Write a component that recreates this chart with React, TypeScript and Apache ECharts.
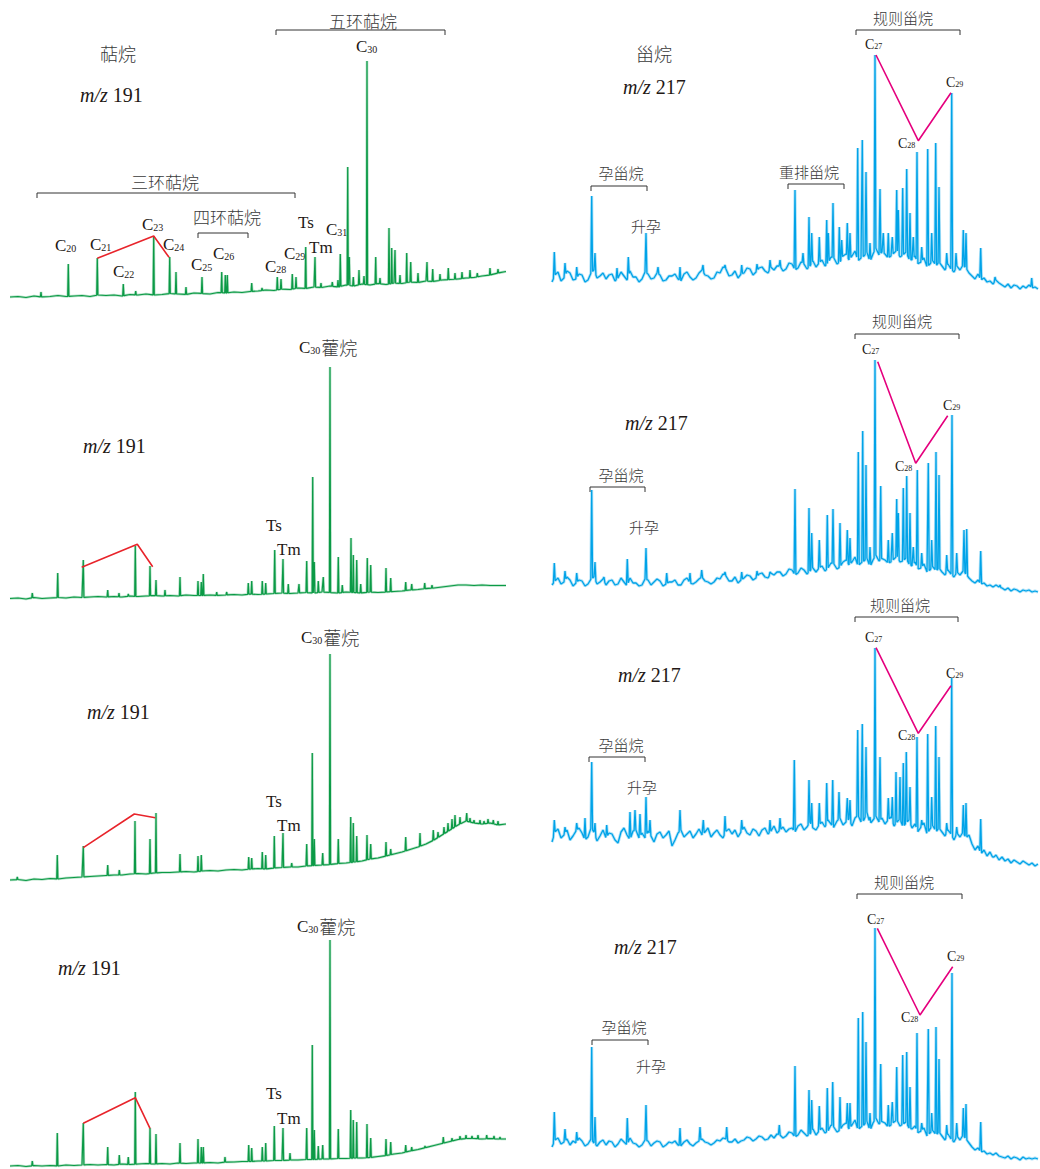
import React, { useEffect, useRef } from "react";
import * as echarts from "echarts";

// ---- sampling of the baseline traces (scan index units) ----
const L_START = 10;
const L_STEP = 8;
const R_START = 12;
const R_STEP = 3;

// ---- m/z 191 (terpanes) baseline traces, abundance ----
const traceL1 = [3,3.5,2.5,4,3,3.5,4.5,3.5,4,4.5,3.5,5,4.5,5,4,5.5,5,6,5,5.5,6.5,6,5.5,7,6.5,6,7.5,7,8,7.5,8.5,9,10,9.5,11,10.5,12,11.5,13,12.5,14,13,15,14,16,15,16.5,15.5,17,16.5,18,17.5,19,18.5,20,20.5,21,22,22.5,24,25,27,28.5];
const traceL2 = [6.5,7,6,7.5,6.5,7,7.5,7,8,7.5,8,8.5,8,8.5,8,9,8.5,9,9.5,9,9.5,9,10,9.5,9.5,10,9.5,10,10.5,10,11,10.5,11,11.5,12,11.5,12,12.5,12,13,12.5,12,13,12.5,12,13,12.5,13,13.5,14,15,15.5,16.5,17,18,19,20,20,19.5,20,19.5,19.5,19.5];
const traceL3 = [10,10.5,9.5,11,10.5,11.5,11,12,12.5,13,13.5,14,14.5,15,15,16,16.5,16,17,17.5,17.5,18,18.5,18,19,19.5,19,20,20.5,20,21,21.5,21,22,22.5,23,23,24,24.5,25,25.5,26.5,27,28,29,31,32,34,36,38,40.5,43,46,50,55,60,65,69,67,66,67,65,66];
const traceL4 = [3,3.5,2.5,3.5,3,3.5,3,4,3.5,4,4.5,4,4.5,4,5,4.5,5,5.5,5,5.5,5,6,5.5,6,6,6.5,6,7,7,7.5,7.5,8,8,8.5,8.5,9,9,9.5,9.5,10,10,10.5,10.5,11,11,11.5,12.5,13.5,15,16,18,19.5,21.5,23.5,25.5,27.5,29.5,30.5,30.5,30,30.5,30,30];

// ---- m/z 217 (steranes) baseline traces, abundance ----
const traceR1 = [
  18,25,28,19,22,29,27,20,21,26, 25,18,20,27,30,22,24,27,21,25, 26,19,22,28,24,20,29,23,23,18,
  21,28,26,21,22,27,25,19,20,24, 24,26,21,19,26,28,23,20,22,27, 30,25,24,21,22,28,27,33,31,24,
  25,29,22,26,27,32,31,25,28,32, 33,29,27,33,30,34,34,29,31,37, 36,30,32,38,36,31,34,39,33,37,
  40,34,37,43,42,36,38,44,46,40, 44,49,39,42,44,48,38,46,52,45, 48,46,42,44,47,50,43,45,48,41,
  40,44,36,38,42,33,36,40,34,38, 34,30,36,31,28,34,30,35,32,27, 24,21,26,20,22,18,19,16,20,17,
  15,13,16,12,15,14,11,14,12,15, 12,13,11];
const traceR2 = [
  20,24,27,21,23,28,25,19,22,25, 24,19,21,26,28,21,23,26,20,24, 25,20,21,27,23,19,27,22,22,19,
  20,26,25,20,23,26,24,19,21,23, 23,25,20,20,25,27,22,21,23,26, 28,24,23,21,23,27,26,31,29,24,
  24,28,22,25,27,30,29,25,27,31, 32,28,27,32,30,33,33,29,31,36, 35,30,32,37,35,31,34,38,33,37,
  39,34,37,42,41,36,38,43,45,40, 43,48,39,42,44,47,38,45,50,44, 47,45,42,43,46,49,43,44,47,41,
  39,43,36,37,41,33,35,39,34,37, 33,30,35,31,28,33,30,34,31,27, 24,22,25,21,22,19,20,18,20,18,
  17,15,17,14,16,15,13,15,14,15, 13,14,13];
const traceR3 = [
  48,58,61,52,55,60,50,54,59,62, 57,50,53,62,58,49,54,60,52,57, 56,50,47,58,62,55,50,59,60,52,
  57,52,59,54,48,56,58,52,55,59, 44,50,57,60,53,56,59,52,56,61, 55,58,62,53,57,60,55,52,59,61,
  56,60,53,58,63,57,55,61,59,54, 60,62,56,59,64,57,60,63,58,61, 62,58,64,66,60,63,68,62,60,65,
  68,63,70,66,62,69,72,65,68,71, 64,72,75,68,70,78,66,70,74,68, 72,66,70,73,64,68,71,63,67,70,
  62,66,58,63,67,56,61,65,58,62, 58,54,60,56,50,57,53,58,52,55, 46,40,44,36,40,34,38,32,35,30,
  33,29,31,27,30,28,26,29,27,25, 27,24,26];
const traceR4 = [
  22,29,31,25,27,30,24,28,26,31, 28,23,25,30,26,23,27,29,24,28, 27,22,25,30,27,24,31,26,25,22,
  24,29,28,23,26,28,27,22,24,27, 26,28,24,23,27,29,25,23,26,28, 30,27,26,24,26,29,28,31,30,27,
  27,30,26,28,29,32,31,28,30,33, 32,29,30,34,31,35,34,31,33,37, 36,32,34,39,36,33,35,40,34,38,
  41,36,38,44,42,37,39,44,46,40, 44,49,39,42,44,48,38,46,51,45, 48,46,42,44,47,49,43,45,47,41,
  40,43,36,38,41,33,36,39,34,37, 33,29,35,30,27,33,29,34,30,26, 22,19,21,17,18,15,16,14,16,13,
  12,11,13,10,12,11,9,12,10,11, 10,11,10];

// ---- peaks [scan, apex abundance] ----
const peaksL1 = [[41,8],[68.3,36],[97.3,42],[123.3,16],[135.7,9],[153.7,64],[169.7,43],[176,28],[186,13],[202,23],[221.7,28],[225.3,25],[227.3,25],[251.7,17],[262,12],[277.3,23],[281,21],[292.3,26],[296,23],[305.7,53],[315,43],[321,17],[332.3,18],[338,20],[340.3,46],[347.7,133],[349.3,43],[353.3,23],[359,30],[364,24],[367,239],[375.7,43],[380,22],[389,72],[391.7,52],[395,50],[400,25],[406.7,47],[410.7,38],[418,27],[427,38],[432.7,31],[440,26],[448.3,32],[455,27],[462,28],[470,30],[477.3,27],[490,32],[498,31]];
const peaksL2 = [[32.3,12],[57.7,32],[83.3,45],[107.7,15],[119,12],[128.3,11],[135.3,59],[150,39],[156,25],[165,15],[180,28],[198,24],[201.3,23],[203.3,31],[216.7,13],[226.7,13],[248.3,22],[251.7,24],[262.3,24],[265.7,22],[274.7,55],[283,46],[288.3,21],[299,21],[306.7,44],[312.7,128],[314.3,43],[318.3,24],[323.3,28],[330,238],[338.3,48],[342.3,20],[351,67],[353.3,50],[356.7,45],[360.7,21],[367.3,47],[370.7,40],[386,37],[390.7,27],[405.7,23],[411.7,21],[424.7,22],[432,20]];
const peaksL3 = [[17.3,13],[57.3,35],[83.3,44],[107.7,25],[119.3,20],[135,69],[150,51],[156,77],[180,36],[198,34],[201.3,35],[248.7,33],[251.7,32],[262.3,38],[265.7,35],[274.3,54],[283,57],[291.7,27],[306.7,46],[312.3,137],[314.3,51],[322.7,37],[330,236],[338.3,51],[350.7,73],[353.3,67],[356.7,54],[367,55],[370.7,46],[386,48],[390.7,41],[405.7,53],[420,57],[433.3,60],[438,58],[444,63],[448,67],[452,71],[455,75],[460,73],[466.7,77],[470,72],[474,70],[480,70],[484,69],[488,71],[493.3,70],[498,69]];
const peaksL4 = [[32.3,8],[57.3,36],[83.3,46],[107.7,22],[119.3,14],[128.3,12],[135.3,77],[150,41],[156,35],[180,26],[198,30],[201.3,22],[203.3,22],[225,12],[248.7,24],[251.7,21],[262.3,22],[265.7,26],[274.3,43],[283,41],[290,16],[306.7,41],[312.3,124],[314.3,39],[318.3,23],[322.7,24],[330,229],[338.3,40],[350.7,59],[353.3,49],[356.7,47],[367,45],[370.7,31],[386,30],[390.7,27],[405.7,24],[411.7,22],[425,23],[443.3,32],[452,31],[460,33],[466,34],[472,33],[478,34],[486.7,34],[494,33],[500,32]];
const peaksR1 = [[14.3,48],[25,37],[36.7,33],[51.7,104],[55,47],[77,32],[88.3,43],[106,67],[118,33],[140,33],[163,35],[185,35],[201.7,35],[217,36],[230,40],[240,40],[255,110],[263,47],[269,83],[271.7,67],[279.3,63],[286.7,80],[288.3,67],[293,97],[299.3,73],[301.7,60],[307.3,77],[310,67],[317.7,152],[322.3,160],[326,128],[330,57],[335,245],[340,111],[343.3,67],[348.3,67],[352.3,63],[356.7,110],[358.3,90],[362.7,112],[366.7,131],[370,87],[373.3,63],[377,148],[381.7,53],[387.7,151],[391.7,67],[395.7,157],[399,113],[406.7,47],[411.7,207],[416,47],[423.3,70],[426,67],[440.7,52],[455,23],[491.7,22]];
const peaksR2 = [[14.3,42],[25,34],[36.7,32],[51.7,115],[55,43],[64,28],[87.3,46],[106,57],[126.7,32],[150,32],[161.7,35],[185,33],[201.7,33],[217,34],[230,33],[255,116],[269,97],[271.7,72],[279.3,65],[287.3,90],[293,96],[300,82],[307.3,75],[310,67],[318.3,153],[322.7,174],[326,140],[330,58],[335,245],[340.7,119],[348.3,65],[352.3,72],[356.7,106],[358.3,92],[363.3,117],[366.7,129],[370,92],[373.3,58],[377.3,135],[381.7,52],[388.3,142],[391.7,65],[396,153],[399,130],[406.7,50],[412,190],[416.7,52],[424,75],[426.7,76],[440.7,54],[460,20]];
const peaksR3 = [[14.3,70],[25,63],[36.7,67],[45,72],[51.7,128],[55,67],[66.7,65],[90,78],[95,80],[100,76],[106,93],[110,70],[140,80],[163.3,70],[185,74],[201.7,70],[230,70],[240,72],[254.3,130],[269,110],[271.7,87],[279.3,87],[286.7,107],[292.7,110],[299,98],[307.3,92],[310,90],[317.7,160],[322.3,166],[326,143],[330,73],[335,242],[340,133],[348.3,92],[352.3,93],[356,118],[360,113],[363.3,127],[366.3,138],[370,103],[377,153],[381.7,70],[387.7,156],[391.7,93],[395.7,164],[399,133],[406.7,67],[411.7,212],[416.7,63],[423.3,85],[426,87],[440.7,71],[453.3,33]];
const peaksR4 = [[14.3,57],[25,40],[36.7,37],[51.7,122],[55,52],[87.3,51],[106,64],[140,41],[160,42],[186.7,42],[239.3,44],[255,103],[269,79],[271.7,69],[279.3,63],[287.3,81],[292.7,87],[300,72],[307.3,66],[310,66],[318.3,151],[322.7,157],[326,127],[330,56],[335,241],[340.7,105],[348.3,64],[352.3,67],[356.7,102],[362.7,114],[366.7,117],[370,82],[377,136],[381.7,46],[388.3,140],[391.7,56],[396,142],[399,110],[406.7,44],[412,196],[416.7,46],[423.3,61],[426,65],[440.7,47]];

// ---- distribution lines (C21-C23-C24 tricyclics, C27-C28-C29 steranes) ----
const ratioL1 = [[97.3,41.7],[153.7,64],[169,42.7]];
const ratioL2 = [[81.7,37.7],[137.3,60.7],[152.7,38.3]];
const ratioL3 = [[83.3,42.3],[134.3,76],[155.3,72.3]];
const ratioL4 = [[83.3,45.7],[135.3,71.3],[150,40.7]];
const ratioR1 = [[336,245],[378.3,159.3],[411,207.3]];
const ratioR2 = [[337.7,243.3],[375.7,141.7],[407.7,189.3]];
const ratioR3 = [[336,242.3],[378.3,156.7],[411,204.3]];
const ratioR4 = [[337.3,240.7],[380,154],[412.7,202.3]];

const ROW_TOP = [0, 300, 605, 890];
const ROW_H = [300, 305, 285, 279];

const GREEN = "#0b9a46";
const BLUE = "#00a3e8";
const RED = "#e8242b";
const MAGENTA = "#e5007e";
const TXT = "#231815";
const CJKC = "#3a3a3a";
const SERIF = '"Liberation Serif", "Times New Roman", serif';
const CJK = '"Noto Sans CJK SC", sans-serif';

function buildLine(trace: number[], start: number, step: number, peaks: number[][], w: number) {
  const n = trace.length;
  const baseAt = (x: number) => {
    const f = (x - start) / step;
    if (f <= 0) return trace[0];
    if (f >= n - 1) return trace[n - 1];
    const i = Math.floor(f);
    const t = f - i;
    return trace[i] * (1 - t) + trace[i + 1] * t;
  };
  const pts: number[][] = [];
  trace.forEach((y, i) => {
    const x = start + i * step;
    if (!peaks.some((p) => Math.abs(p[0] - x) <= w)) pts.push([x, y]);
  });
  peaks.forEach(([x, h]) => {
    pts.push([x - w, baseAt(x - w)], [x, h], [x + w, baseAt(x + w)]);
  });
  pts.sort((a, b) => a[0] - b[0]);
  return pts;
}

function cjk(text: string, x: number, y: number, size: number) {
  return {
    type: "text", x, y, silent: true,
    style: { text, fill: CJKC, fontFamily: CJK, fontSize: size, fontWeight: 300, align: "center", verticalAlign: "middle" },
  };
}
function plain(text: string, x: number, y: number, size = 17) {
  return {
    type: "text", x, y, silent: true,
    style: { text, fill: TXT, fontFamily: SERIF, fontSize: size, align: "left", verticalAlign: "middle" },
  };
}
function cLab(sub: string, x: number, y: number, size = 17, tail = "") {
  const subSize = Math.round(size * 0.58);
  const lh = Math.round(size * 0.95);
  return {
    type: "text", x, y, silent: true,
    style: {
      text: `{c|C}{s|${sub}}` + (tail ? `{z|${tail}}` : ""),
      align: "left", verticalAlign: "middle",
      rich: {
        c: { fontFamily: SERIF, fontSize: size, fill: TXT, lineHeight: lh, verticalAlign: "middle" },
        s: { fontFamily: SERIF, fontSize: subSize, fill: TXT, lineHeight: 4, verticalAlign: "bottom", padding: [0, 1, 0, 0] },
        z: { fontFamily: CJK, fontSize: 18, fill: CJKC, fontWeight: 300, lineHeight: lh, verticalAlign: "middle" },
      },
    },
  };
}
function mz(num: string, x: number, y: number) {
  return {
    type: "text", x, y, silent: true,
    style: {
      text: `{i|m/z}{n| ${num}}`,
      align: "left", verticalAlign: "middle",
      rich: {
        i: { fontFamily: SERIF, fontSize: 20, fontStyle: "italic", fill: TXT },
        n: { fontFamily: SERIF, fontSize: 20, fill: TXT },
      },
    },
  };
}
function bracket(x1: number, x2: number, y: number) {
  return {
    type: "polyline", silent: true,
    shape: { points: [[x1, y + 5], [x1, y], [x2, y], [x2, y + 5]] },
    style: { stroke: "#333", fill: null, lineWidth: 1 },
  };
}

export default function App() {
  const ref = useRef<HTMLDivElement>(null);
  useEffect(() => {
    const chart = echarts.init(ref.current!, undefined, { renderer: "svg" });
    const panels = [
      { trace: traceL1, peaks: peaksL1, ratio: ratioL1 },
      { trace: traceL2, peaks: peaksL2, ratio: ratioL2 },
      { trace: traceL3, peaks: peaksL3, ratio: ratioL3 },
      { trace: traceL4, peaks: peaksL4, ratio: ratioL4 },
      { trace: traceR1, peaks: peaksR1, ratio: ratioR1 },
      { trace: traceR2, peaks: peaksR2, ratio: ratioR2 },
      { trace: traceR3, peaks: peaksR3, ratio: ratioR3 },
      { trace: traceR4, peaks: peaksR4, ratio: ratioR4 },
    ];
    const grid: any[] = [];
    const xAxis: any[] = [];
    const yAxis: any[] = [];
    const series: any[] = [];
    panels.forEach((p, i) => {
      const left = i < 4;
      const row = i % 4;
      grid.push({ left: left ? 0 : 540, top: ROW_TOP[row], width: left ? 510 : 500, height: ROW_H[row] });
      xAxis.push({ type: "value", gridIndex: i, min: 0, max: left ? 510 : 500, show: false });
      yAxis.push({ type: "value", gridIndex: i, min: 0, max: ROW_H[row], show: false });
      const data = left
        ? buildLine(p.trace, L_START, L_STEP, p.peaks, 0.6)
        : buildLine(p.trace, R_START, R_STEP, p.peaks, 0.9);
      const color = left ? GREEN : BLUE;
      // soft halo giving the fuzzy look of the detector trace
      series.push({
        type: "line", xAxisIndex: i, yAxisIndex: i, data, symbol: "none", silent: true,
        lineStyle: { color, width: left ? 2.6 : 3, opacity: 0.3 }, z: 1,
      });
      series.push({
        type: "line", xAxisIndex: i, yAxisIndex: i, data, symbol: "none", silent: true,
        lineStyle: { color, width: left ? 1.2 : 1.3 }, z: 2,
      });
      series.push({
        type: "line", xAxisIndex: i, yAxisIndex: i, data: p.ratio, symbol: "none", silent: true,
        lineStyle: { color: left ? RED : MAGENTA, width: 1.6 }, z: 3,
      });
    });

    const graphic: any[] = [
      // Left row 1
      cjk("萜烷", 118, 53, 18),
      mz("191", 80, 95),
      cjk("五环萜烷", 363, 20, 17), bracket(276, 445, 30),
      cjk("三环萜烷", 165, 181, 17), bracket(37, 295, 193),
      cjk("四环萜烷", 227, 216, 17), bracket(198, 248, 233),
      cLab("30", 356, 46), cLab("20", 55, 245), cLab("21", 90, 244), cLab("22", 113, 271),
      cLab("23", 142, 224), cLab("24", 163, 244), cLab("25", 191, 264), cLab("26", 213, 253),
      cLab("28", 265, 266), cLab("29", 284, 253), cLab("31", 326, 229),
      plain("Ts", 298, 222), plain("Tm", 309, 247),
      // Left row 2
      cLab("30", 299, 347, 17, "藿烷"), mz("191", 83, 446), plain("Ts", 266, 525), plain("Tm", 277, 549),
      // Left row 3
      cLab("30", 301, 637, 17, "藿烷"), mz("191", 87, 712), plain("Ts", 266, 801), plain("Tm", 277, 825),
      // Left row 4
      cLab("30", 297, 926, 17, "藿烷"), mz("191", 58, 968), plain("Ts", 266, 1093), plain("Tm", 277, 1118),
      // Right row 1
      cjk("甾烷", 654, 53, 18),
      mz("217", 623, 87),
      cjk("规则甾烷", 903, 17, 15), bracket(856, 960, 30),
      cLab("27", 865, 44, 14), cLab("29", 946, 82, 14), cLab("28", 898, 143, 14),
      cjk("孕甾烷", 621, 172, 15), bracket(591, 647, 186),
      cjk("升孕", 646, 225, 15),
      cjk("重排甾烷", 809, 171, 15), bracket(788, 844, 184),
      // Right row 2
      mz("217", 625, 423),
      cjk("规则甾烷", 902, 320, 15), bracket(855, 959, 334),
      cLab("27", 862, 349, 14), cLab("29", 943, 405, 14), cLab("28", 895, 466, 14),
      cjk("孕甾烷", 621, 474, 15), bracket(590, 645, 487),
      cjk("升孕", 644, 526, 15),
      // Right row 3
      mz("217", 618, 675),
      cjk("规则甾烷", 900, 604, 15), bracket(855, 958, 617),
      cLab("27", 865, 637, 14), cLab("29", 946, 673, 14), cLab("28", 898, 735, 14),
      cjk("孕甾烷", 621, 744, 15), bracket(589, 645, 757),
      cjk("升孕", 642, 786, 15),
      // Right row 4
      mz("217", 614, 947),
      cjk("规则甾烷", 904, 881, 15), bracket(857, 962, 894),
      cLab("27", 867, 919, 14), cLab("29", 947, 956, 14), cLab("28", 901, 1017, 14),
      cjk("孕甾烷", 624, 1026, 15), bracket(592, 648, 1040),
      cjk("升孕", 651, 1065, 15),
    ];

    chart.setOption({
      animation: false,
      backgroundColor: "#ffffff",
      grid, xAxis, yAxis, series, graphic,
    });
    return () => chart.dispose();
  }, []);
  return (
    <div
      ref={ref}
      style={{ position: "absolute", left: 0, top: 0, width: 1040, height: 1169, background: "#fff" }}
    />
  );
}
